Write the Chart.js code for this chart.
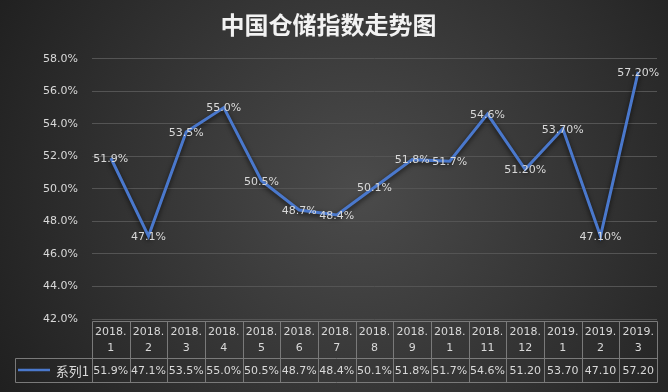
<!DOCTYPE html>
<html lang="zh">
<head>
<meta charset="UTF-8">
<title>中国仓储指数走势图</title>
<style>
    html, body { margin: 0; padding: 0; background: #2b2b2b; }
    #wrap { width: 668px; height: 392px; }
</style>
</head>
<body>
<div id="wrap"><canvas id="storageChart" width="668" height="392"></canvas></div>
<script src="https://cdn.jsdelivr.net/npm/chart.js@4.4.1/dist/chart.umd.min.js"></script>
<script>
    // categories as printed in the table (the 10th column really reads "2018.1")
    const months = ['2018.1', '2018.2', '2018.3', '2018.4', '2018.5', '2018.6', '2018.7', '2018.8',
        '2018.9', '2018.1', '2018.11', '2018.12', '2019.1', '2019.2', '2019.3'];
    const indexValues = [51.9, 47.1, 53.5, 55.0, 50.5, 48.7, 48.4, 50.1, 51.8, 51.7, 54.6, 51.2, 53.7, 47.1, 57.2];
    const pointLabels = ['51.9%', '47.1%', '53.5%', '55.0%', '50.5%', '48.7%', '48.4%', '50.1%',
        '51.8%', '51.7%', '54.6%', '51.20%', '53.70%', '47.10%', '57.20%'];
    const tableLabels = ['51.9%', '47.1%', '53.5%', '55.0%', '50.5%', '48.7%', '48.4%', '50.1%',
        '51.8%', '51.7%', '54.6%', '51.20', '53.70', '47.10', '57.20'];
    const seriesName = '系列1';
    const yMin = 42, yMax = 58, yStep = 2;

    const lineColor = '#4a78cc';
    const textColor = '#d9d9d9';
    const numFont = '11px "DejaVu Sans"';

    const background = {
        id: 'background',
        beforeDraw(chart) {
            const ctx = chart.ctx;
            const g = ctx.createRadialGradient(360, 190, 10, 360, 190, 430);
            g.addColorStop(0, '#4a4a4a');
            g.addColorStop(1, '#1e1e1e');
            ctx.save();
            ctx.fillStyle = g;
            ctx.fillRect(0, 0, chart.width, chart.height);
            ctx.restore();
        }
    };

    const lineShadow = {
        id: 'lineShadow',
        beforeDatasetsDraw(chart) {
            const ctx = chart.ctx;
            ctx.save();
            ctx.shadowColor = 'rgba(0,0,0,0.7)';
            ctx.shadowBlur = 5;
            ctx.shadowOffsetY = 2;
        },
        afterDatasetsDraw(chart) {
            chart.ctx.restore();
            // value labels centred on each point
            const ctx = chart.ctx;
            const pts = chart.getDatasetMeta(0).data;
            ctx.save();
            ctx.font = numFont;
            ctx.fillStyle = textColor;
            ctx.textAlign = 'center';
            ctx.textBaseline = 'middle';
            pts.forEach((p, i) => ctx.fillText(pointLabels[i], p.x, p.y + 1));
            ctx.restore();
        }
    };

    // data table under the plot
    const dataTable = {
        id: 'dataTable',
        afterDraw(chart) {
            const ctx = chart.ctx;
            const area = chart.chartArea;
            const xs = chart.scales.x;
            const n = months.length;
            const colW = (area.right - area.left) / n;
            const r0 = area.bottom + 2, r1 = r0 + 37, r2 = r1 + 24;
            const legendLeft = 15;
            const px = v => Math.round(v) + 0.5;

            ctx.save();
            ctx.strokeStyle = '#7a7a7a';
            ctx.lineWidth = 1;
            ctx.beginPath();
            ctx.moveTo(px(area.left), px(r0)); ctx.lineTo(px(area.right), px(r0));
            ctx.moveTo(px(legendLeft), px(r1)); ctx.lineTo(px(area.right), px(r1));
            ctx.moveTo(px(legendLeft), px(r2)); ctx.lineTo(px(area.right), px(r2));
            ctx.moveTo(px(legendLeft), px(r1)); ctx.lineTo(px(legendLeft), px(r2));
            for (let i = 0; i <= n; i++) {
                const x = px(area.left + i * colW);
                ctx.moveTo(x, px(r0)); ctx.lineTo(x, px(r2));
            }
            ctx.stroke();

            ctx.font = numFont;
            ctx.fillStyle = textColor;
            ctx.textAlign = 'center';
            ctx.textBaseline = 'middle';
            months.forEach((m, i) => {
                const cx = xs.getPixelForValue(i);
                const dot = m.indexOf('.');
                ctx.fillText(m.slice(0, dot + 1), cx, r0 + 11);
                ctx.fillText(m.slice(dot + 1), cx, r0 + 27);
                ctx.fillText(tableLabels[i], cx, (r1 + r2) / 2 + 1);
            });

            // legend key
            const ly = (r1 + r2) / 2;
            ctx.strokeStyle = lineColor;
            ctx.lineWidth = 2.5;
            ctx.beginPath();
            ctx.moveTo(18, ly); ctx.lineTo(50, ly);
            ctx.stroke();
            ctx.font = '13px "Noto Sans CJK SC"';
            ctx.textAlign = 'right';
            ctx.fillText(seriesName, area.left - 3, ly + 1);
            ctx.restore();
        }
    };

    new Chart(document.getElementById('storageChart'), {
        type: 'line',
        data: {
            labels: months,
            datasets: [{
                label: seriesName,
                data: indexValues,
                borderColor: lineColor,
                borderWidth: 3,
                pointRadius: 0,
                tension: 0
            }]
        },
        options: {
            responsive: false,
            animation: false,
            layout: { padding: { left: 0, right: 11, top: 0, bottom: 73 } },
            plugins: {
                legend: { display: false },
                tooltip: { enabled: false },
                title: {
                    display: true,
                    text: '中国仓储指数走势图',
                    color: '#f2f2f2',
                    font: { family: '"Noto Sans CJK SC"', size: 24, weight: 'bold', lineHeight: 1.2 },
                    padding: { top: 10, bottom: 20 }
                }
            },
            scales: {
                x: {
                    display: false,
                    offset: true
                },
                y: {
                    min: yMin,
                    max: yMax,
                    ticks: {
                        stepSize: yStep,
                        color: textColor,
                        font: { family: '"DejaVu Sans"', size: 11 },
                        padding: 14,
                        callback: v => v.toFixed(1) + '%'
                    },
                    grid: { color: '#545454', drawTicks: false },
                    border: { display: false },
                    afterFit: s => { s.width = 92; }
                }
            }
        },
        plugins: [background, lineShadow, dataTable]
    });
</script>
</body>
</html>
